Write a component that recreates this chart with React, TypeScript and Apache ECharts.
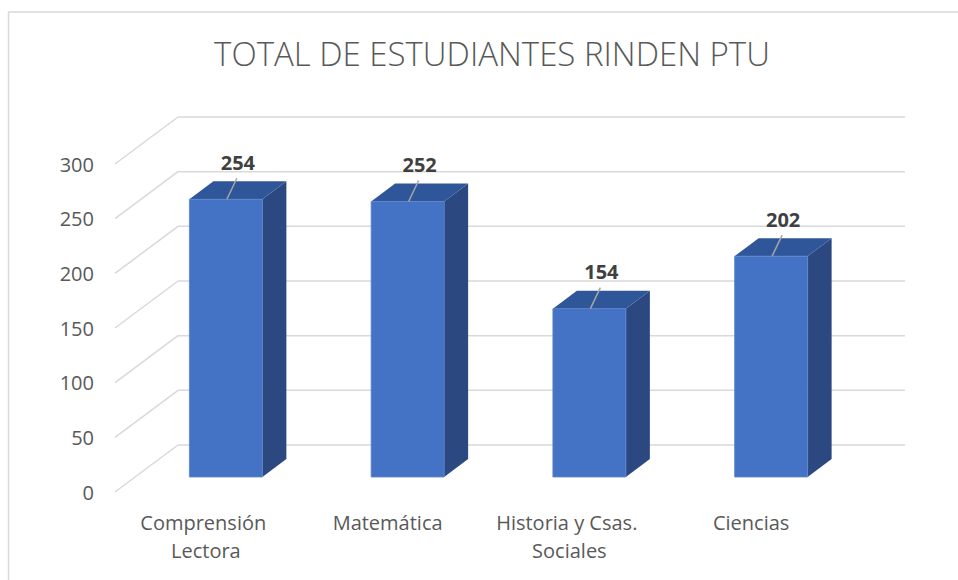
import React, { useEffect, useRef } from "react";
import * as echarts from "echarts";

const TITLE = "TOTAL DE ESTUDIANTES RINDEN PTU";
const categories = ["Comprensión Lectora", "Matemática", "Historia y Csas. Sociales", "Ciencias"];
const students = [254, 252, 154, 202];
const yTicks = [0, 50, 100, 150, 200, 250, 300];

const FONT = "'Open Sans', 'Noto Sans', sans-serif";
// 3D projection constants (pixels)
const WALL_DX = 63;
const WALL_DY = 47;
const BAR_OX = 20;
const BAR_OY = 15;
const BAR_HALF = 36.5;
const BAR_DX = 24;
const BAR_DY = 18;

export default function App() {
  const ref = useRef<HTMLDivElement>(null);
  useEffect(() => {
    if (!ref.current) return;
    const chart = echarts.init(ref.current, null, { renderer: "svg" });
    const option: any = {
      animation: false,
      backgroundColor: "#ffffff",
      title: {
        text: TITLE,
        left: 487,
        top: 32,
        textAlign: "center",
        textStyle: { fontFamily: FONT, fontSize: 33, fontWeight: 300, color: "#595959" },
      },
      graphic: [
        {
          type: "rect",
          shape: { x: 8.5, y: 12, width: 1000, height: 700 },
          style: { fill: "none", stroke: "#D9D9D9", lineWidth: 1.5 },
          silent: true,
          z: -10,
        },
      ],
      grid: { left: 115, top: 164, width: 727, height: 328 },
      xAxis: {
        type: "category",
        data: categories,
        axisLine: { show: false },
        axisTick: { show: false },
        axisLabel: {
          margin: 16,
          fontFamily: FONT,
          fontSize: 20,
          lineHeight: 28,
          color: "#595959",
          width: 175,
          overflow: "break",
          interval: 0,
        },
      },
      yAxis: {
        type: "value",
        min: 0,
        max: 300,
        interval: 50,
        axisLine: { show: false },
        axisTick: { show: false },
        splitLine: { show: false },
        axisLabel: { margin: 21, fontFamily: FONT, fontSize: 20, color: "#595959" },
      },
      series: [
        {
          type: "custom",
          clip: false,
          silent: true,
          z: 1,
          data: yTicks.map((v) => [0, v]),
          encode: { x: 0, y: 1 },
          renderItem: (params: any, api: any) => {
            const cs = params.coordSys;
            const y = api.coord([0, api.value(1)])[1];
            const bx = cs.x + WALL_DX;
            const by = y - WALL_DY;
            const st = { stroke: "#D9D9D9", lineWidth: 1.5, fill: "none" };
            return {
              type: "group",
              children: [
                { type: "line", shape: { x1: cs.x, y1: y, x2: bx, y2: by }, style: st },
                { type: "line", shape: { x1: bx, y1: by, x2: cs.x + cs.width + WALL_DX, y2: by }, style: st },
              ],
            };
          },
        },
        {
          type: "custom",
          clip: false,
          z: 5,
          data: students.map((v, i) => [i, v]),
          encode: { x: 0, y: 1 },
          renderItem: (params: any, api: any) => {
            const i = api.value(0);
            const v = api.value(1);
            const base = api.coord([i, 0]);
            const top = api.coord([i, v]);
            const cx = base[0] + BAR_OX;
            const y0 = base[1] - BAR_OY;
            const y1 = top[1] - BAR_OY;
            const l = cx - BAR_HALF;
            const r = cx + BAR_HALF;
            return {
              type: "group",
              children: [
                {
                  type: "polygon",
                  shape: { points: [[r, y0], [r + BAR_DX, y0 - BAR_DY], [r + BAR_DX, y1 - BAR_DY], [r, y1]] },
                  style: { fill: "#2B4880" },
                },
                {
                  type: "polygon",
                  shape: { points: [[l, y1], [r, y1], [r + BAR_DX, y1 - BAR_DY], [l + BAR_DX, y1 - BAR_DY]] },
                  style: { fill: "#30569A" },
                },
                {
                  type: "rect",
                  shape: { x: l, y: y1, width: r - l, height: y0 - y1 },
                  style: { fill: "#4472C4", stroke: "#5A84CC", lineWidth: 0.8 },
                },
                {
                  type: "line",
                  shape: { x1: cx + 1, y1: y1, x2: cx + 11, y2: y1 - 21 },
                  style: { stroke: "#A6A6A6", lineWidth: 1.5 },
                },
                {
                  type: "text",
                  x: cx + 12,
                  y: y1 - 37,
                  style: {
                    text: String(v),
                    fontFamily: FONT,
                    fontSize: 20,
                    fontWeight: "bold",
                    fill: "#404040",
                    align: "center",
                    verticalAlign: "middle",
                  },
                },
              ],
            };
          },
        },
      ],
    };
    chart.setOption(option);
    return () => chart.dispose();
  }, []);
  return (
    <div
      ref={ref}
      style={{ position: "absolute", left: 0, top: 0, width: 958, height: 580 }}
    />
  );
}
